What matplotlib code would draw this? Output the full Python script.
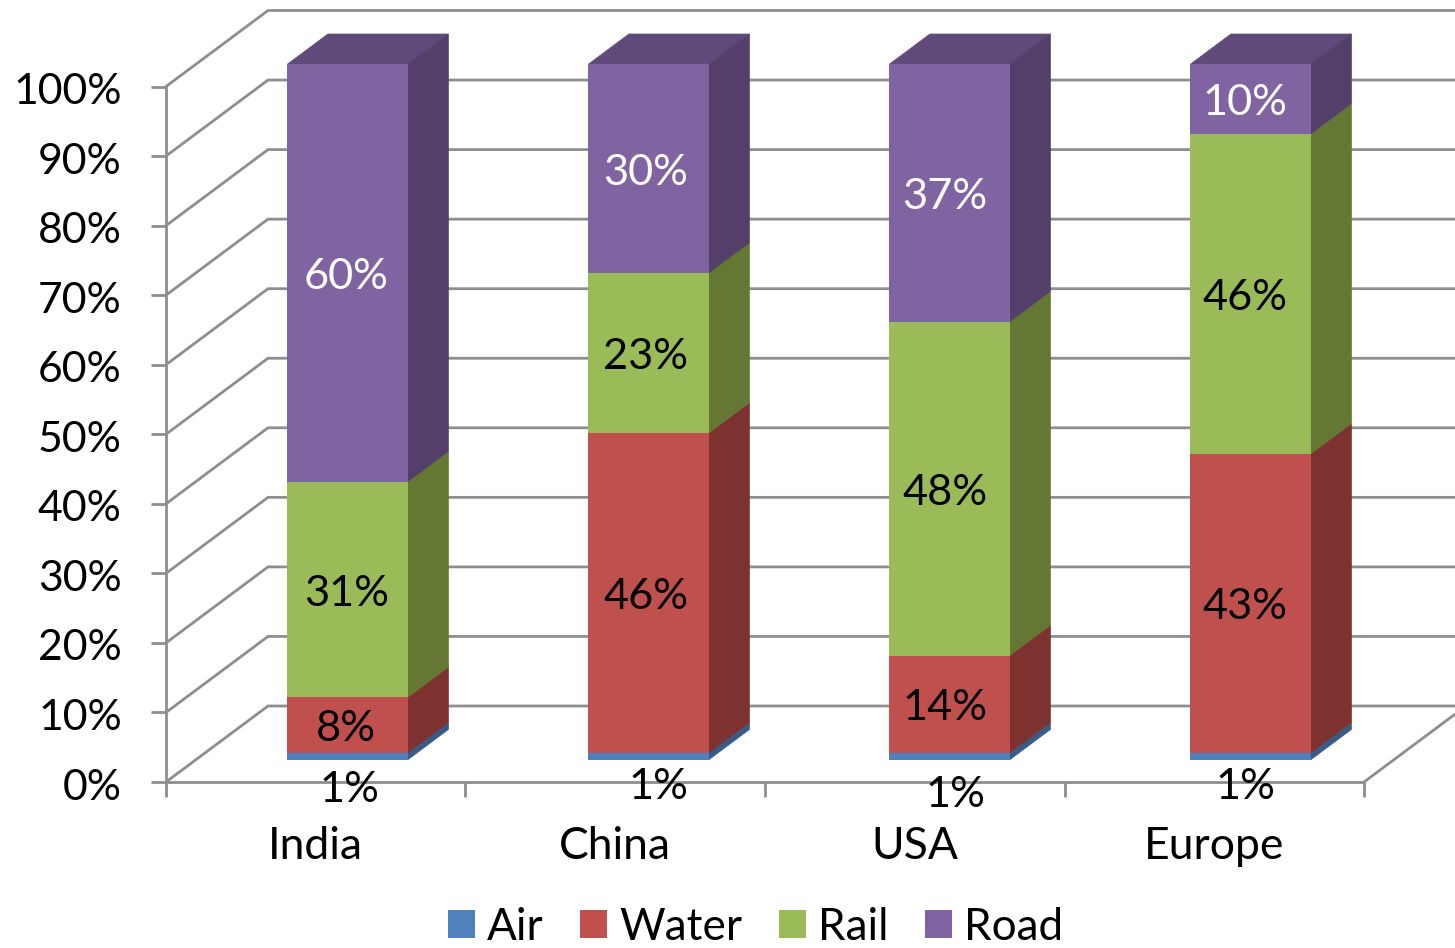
import matplotlib
matplotlib.use("Agg")
import matplotlib.pyplot as plt
from matplotlib.patches import Patch
from matplotlib.transforms import ScaledTranslation
import numpy as np

categories = ["India", "China", "USA", "Europe"]
series_names = ["Air", "Water", "Rail", "Road"]
air = [1, 1, 1, 1]
water = [8, 46, 14, 43]
rail = [31, 23, 48, 46]
road = [60, 30, 37, 10]
y_ticks = [0, 10, 20, 30, 40, 50, 60, 70, 80, 90, 100]

front_colors = ["#4F81BD", "#C0504D", "#9BBB59", "#8064A2"]
side_colors = ["#385B88", "#7D3230", "#647733", "#533F6A"]
top_color = "#604A7B"
grid_color = "#8E8E8E"
label_colors = ["black", "black", "black", "white"]
FONT = "Lato"
FS_TICK = 30.8
FS_CAT = 32
FS_LABEL = 31.2
FS_LEGEND = 31.8

W, H = 1455, 948
UX, UY = 299.5, 6.955      # pixels per category / per percent
X0, Y0 = 315.75, 782       # pixel position of first category / of 0 %
DX, DY = 102 / UX, 76 / UY # chart depth in data units
BAR_W = 120.5 / UX
BAR_STEP = 301 / UX
D_FRONT, D_BACK = 0.3, 0.7
LW = 2.0

fig = plt.figure(figsize=(W / 100, H / 100), dpi=100, facecolor="white")
ax = fig.add_axes([0, 0, 1, 1])
ax.set_xlim(-X0 / UX, (W - X0) / UX)
ax.set_ylim((Y0 - H) / UY, Y0 / UY)
ax.patch.set_visible(False)

# axes
for s in ("top", "right"):
    ax.spines[s].set_visible(False)
x_left, x_right = -0.5, len(categories) - 0.5
ax.spines["left"].set_position(("data", x_left))
ax.spines["left"].set_bounds(0, 100)
ax.spines["bottom"].set_position(("data", 0))
ax.spines["bottom"].set_bounds(x_left, x_right)
for s in ("left", "bottom"):
    ax.spines[s].set_color(grid_color)
    ax.spines[s].set_linewidth(LW)

ax.set_yticks(y_ticks)
ax.set_yticklabels([f"{v}%" for v in y_ticks], fontname=FONT, fontsize=FS_TICK)
ax.tick_params(axis="y", length=10.8, width=LW, color=grid_color, pad=21)
ax.set_xticks(range(len(categories)))
ax.set_xticklabels(categories, fontname=FONT, fontsize=FS_CAT)
ax.set_xticks(np.arange(x_left, x_right + 1), minor=True)
ax.tick_params(axis="x", which="major", length=0, pad=31.5)
ax.tick_params(axis="x", which="minor", length=10.8, width=LW, color=grid_color)
shift = ScaledTranslation(0, -2 / 100, fig.dpi_scale_trans)
for lab in ax.get_yticklabels():
    lab.set_transform(lab.get_transform() + shift)

# walls and floor
for v in y_ticks:
    ax.plot([x_left, x_left + DX, x_right + DX], [v, v + DY, v + DY],
            color=grid_color, lw=LW, zorder=1, solid_joinstyle="miter")
ax.plot([x_right, x_right + DX], [0, DY], color=grid_color, lw=LW, zorder=1)

# bars
stack = np.array([air, water, rail, road], dtype=float)
bottoms = np.vstack([np.zeros(stack.shape[1]), np.cumsum(stack, axis=0)[:-1]])
xpos = np.arange(len(categories)) * BAR_STEP
fx = xpos + D_FRONT * DX + 1 / UX
fy = D_FRONT * DY - 0.7 / UY
sx = (D_BACK - D_FRONT) * DX
sy = (D_BACK - D_FRONT) * DY
label_dx = [-1, -2.5, -4.5, -5]     # pixel nudges of the labels per category
one_pct_pos = [(2, 8), (10, 5), (6, 13), (-5, 5)]  # nudges of the hand-moved 1 % labels
PT = 0.72

for k in range(stack.shape[0]):
    ax.bar(fx, stack[k], width=BAR_W, bottom=bottoms[k] + fy,
           color=front_colors[k], linewidth=0, zorder=3)
    for i in range(len(categories)):
        r = fx[i] + BAR_W / 2
        b0 = bottoms[k, i] + fy
        b1 = b0 + stack[k, i]
        ax.fill([r, r + sx, r + sx, r], [b0, b0 + sy, b1 + sy, b1],
                color=side_colors[k], linewidth=0.5, zorder=2.9)
        if k == stack.shape[0] - 1:
            l = r - BAR_W
            ax.fill([l, r, r + sx, l + sx], [b1, b1, b1 + sy, b1 + sy],
                    color=top_color, linewidth=0.5, zorder=2.8)
        cy = b0 + stack[k, i] / 2
        if k == 0:
            ox, oy = one_pct_pos[i]
            ax.annotate(f"{int(stack[k, i])}%", (fx[i], bottoms[k, i]), xytext=(ox * PT, -oy * PT),
                        textcoords="offset points", ha="center", va="center",
                        fontname=FONT, fontsize=FS_LABEL, color="black", zorder=5)
        else:
            ax.annotate(f"{int(stack[k, i])}%", (fx[i], cy), xytext=(label_dx[i] * PT, -4 * PT),
                        textcoords="offset points", ha="center", va="center",
                        fontname=FONT, fontsize=FS_LABEL, color=label_colors[k], zorder=5)

handles = [Patch(facecolor=c, edgecolor="none", label=n) for c, n in zip(front_colors, series_names)]
ax.legend(handles=handles, ncol=4, loc="center", bbox_to_anchor=(755.5 / W, 1 - 927 / H),
          frameon=False, prop={"family": FONT, "size": FS_LEGEND},
          handlelength=0.62, handleheight=0.62, handletextpad=0.27,
          columnspacing=0.82, borderpad=0, borderaxespad=0)

fig.savefig("out.png", dpi=100)
